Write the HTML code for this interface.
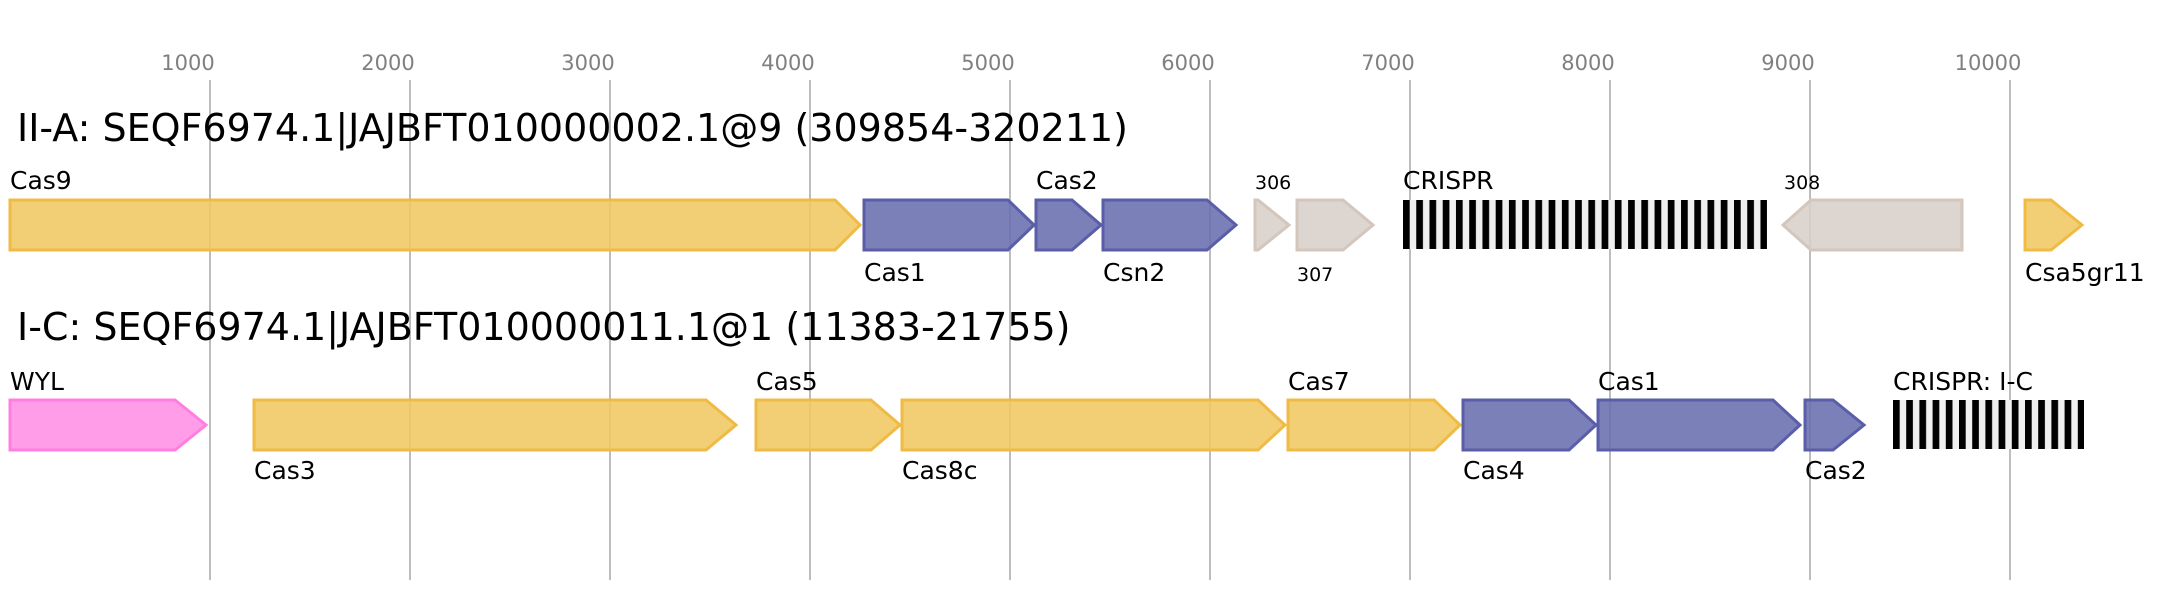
<!DOCTYPE html>
<html><head><meta charset="utf-8"><style>
html,body{margin:0;padding:0;background:#fff;}
svg{display:block;}
text{font-family:"DejaVu Sans","Liberation Sans",sans-serif;}
</style></head><body>
<svg width="2174" height="600" viewBox="0 0 2174 600" xmlns="http://www.w3.org/2000/svg">
<defs>
<pattern id="cr" x="1403" y="0" width="13.24" height="600" patternUnits="userSpaceOnUse">
<rect x="0" y="0" width="13.24" height="600" fill="#efefef"/>
<rect x="0" y="0" width="6.7" height="600" fill="#000"/>
</pattern>
<pattern id="cr2" x="1893" y="0" width="13.2" height="600" patternUnits="userSpaceOnUse">
<rect x="0" y="0" width="13.2" height="600" fill="#efefef"/>
<rect x="0" y="0" width="6.7" height="600" fill="#000"/>
</pattern>
</defs>
<g stroke="#bdbdbd" stroke-width="2">
<line x1="210" y1="80" x2="210" y2="580"/><line x1="410" y1="80" x2="410" y2="580"/>
<line x1="610" y1="80" x2="610" y2="580"/><line x1="810" y1="80" x2="810" y2="580"/>
<line x1="1010" y1="80" x2="1010" y2="580"/><line x1="1210" y1="80" x2="1210" y2="580"/>
<line x1="1410" y1="80" x2="1410" y2="580"/><line x1="1610" y1="80" x2="1610" y2="580"/>
<line x1="1810" y1="80" x2="1810" y2="580"/><line x1="2010" y1="80" x2="2010" y2="580"/>
</g>
<g fill="#808080" font-size="21" text-anchor="middle">
<text x="188" y="70">1000</text><text x="388" y="70">2000</text><text x="588" y="70">3000</text>
<text x="788" y="70">4000</text><text x="988" y="70">5000</text><text x="1188" y="70">6000</text>
<text x="1388" y="70">7000</text><text x="1588" y="70">8000</text><text x="1788" y="70">9000</text>
<text x="1988" y="70">10000</text>
</g>
<text x="17" y="141" font-size="38" fill="#000">II-A: SEQF6974.1|JAJBFT010000002.1@9 (309854-320211)</text>
<text x="17" y="340" font-size="38" fill="#000">I-C: SEQF6974.1|JAJBFT010000011.1@1 (11383-21755)</text>

<g stroke-width="3" stroke-linejoin="miter" fill-opacity="0.88">
<polygon points="10,200 835,200 860,225 835,250 10,250" fill="#f0c862" stroke="#efbb45"/>
<polygon points="864,200 1008,200 1034,225 1008,250 864,250" fill="#6a6eae" stroke="#5a5ea8"/>
<polygon points="1036,200 1072,200 1101,225 1072,250 1036,250" fill="#6a6eae" stroke="#5a5ea8"/>
<polygon points="1103,200 1207,200 1236,225 1207,250 1103,250" fill="#6a6eae" stroke="#5a5ea8"/>
<polygon points="1255,200 1258,200 1289,225 1258,250 1255,250" fill="#d8cfc8" stroke="#d3c6bc"/>
<polygon points="1297,200 1343,200 1373,225 1343,250 1297,250" fill="#d8cfc8" stroke="#d3c6bc"/>
<polygon points="1962,200 1811,200 1783,225 1811,250 1962,250" fill="#d8cfc8" stroke="#d3c6bc"/>
<polygon points="2025,200 2051,200 2082,225 2051,250 2025,250" fill="#f0c862" stroke="#efbb45"/>
<polygon points="10,400 175,400 206,425 175,450 10,450" fill="#ff8fe6" stroke="#ff7fe0"/>
<polygon points="254,400 706,400 736,425 706,450 254,450" fill="#f0c862" stroke="#efbb45"/>
<polygon points="756,400 871,400 900,425 871,450 756,450" fill="#f0c862" stroke="#efbb45"/>
<polygon points="902,400 1258,400 1285,425 1258,450 902,450" fill="#f0c862" stroke="#efbb45"/>
<polygon points="1288,400 1434,400 1460,425 1434,450 1288,450" fill="#f0c862" stroke="#efbb45"/>
<polygon points="1463,400 1569,400 1596,425 1569,450 1463,450" fill="#6a6eae" stroke="#5a5ea8"/>
<polygon points="1598,400 1773,400 1800,425 1773,450 1598,450" fill="#6a6eae" stroke="#5a5ea8"/>
<polygon points="1805,400 1833,400 1864,425 1833,450 1805,450" fill="#6a6eae" stroke="#5a5ea8"/>
</g>
<rect x="1403" y="200" width="364" height="49" fill="url(#cr)"/>
<rect x="1893" y="400" width="191" height="49" fill="url(#cr2)"/>

<g font-size="25" fill="#000">
<text x="10" y="189">Cas9</text>
<text x="864" y="281">Cas1</text>
<text x="1036" y="189">Cas2</text>
<text x="1103" y="281">Csn2</text>
<text x="1403" y="189">CRISPR</text>
<text x="2025" y="281">Csa5gr11</text>
<text x="10" y="390">WYL</text>
<text x="254" y="479">Cas3</text>
<text x="756" y="390">Cas5</text>
<text x="902" y="479">Cas8c</text>
<text x="1288" y="390">Cas7</text>
<text x="1463" y="479">Cas4</text>
<text x="1598" y="390">Cas1</text>
<text x="1805" y="479">Cas2</text>
<text x="1893" y="390">CRISPR: I-C</text>
</g>
<g font-size="19" fill="#000">
<text x="1255" y="189">306</text>
<text x="1297" y="281">307</text>
<text x="1784" y="189">308</text>
</g>
</svg>
</body></html>
